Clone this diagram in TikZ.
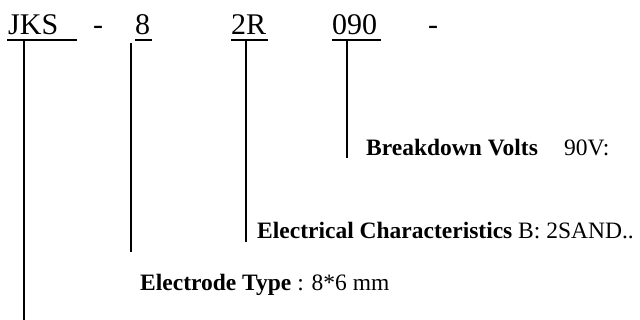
\documentclass[tikz,border=0pt]{standalone}
\usepackage{fontspec}
\setmainfont{Liberation Serif}
\begin{document}
\begin{tikzpicture}[x=1pt,y=-1pt,
  code/.style={anchor=base west,inner sep=0pt,font=\fontsize{30}{30}\selectfont},
  lab/.style={anchor=base west,inner sep=0pt,font=\fontsize{23.5}{23.5}\selectfont},
  lead/.style={line width=1.3pt},
  uline/.style={line width=1.2pt}]
\useasboundingbox (0,0) rectangle (640,320);
% top code
\node[code] (jks) at (8,35) {JKS};
\node[code] (d1) at (93,35) {-};
\node[code] (e8) at (135,35) {8};
\node[code] (r2) at (231,35) {2R};
\node[code] (v090) at (332,35) {090};
\node[code] (d2) at (428,35) {-};
% underlines
\coordinate (u1a) at (7,40);   \coordinate (u1b) at (77,40);
\coordinate (u2a) at (135,40); \coordinate (u2b) at (152,40);
\coordinate (u3a) at (231,40); \coordinate (u3b) at (268,40);
\coordinate (u4a) at (332,40); \coordinate (u4b) at (381,40);
\draw[uline] (u1a) -- (u1b);
\draw[uline] (u2a) -- (u2b);
\draw[uline] (u3a) -- (u3b);
\draw[uline] (u4a) -- (u4b);
% labels
\node[lab] (bv) at (366,156) {\textbf{Breakdown Volts}};
\node[lab] (bvv) at (564,156) {90V:};
\node[lab] (ec) at (257,239) {\textbf{Electrical Characteristics} B: 2SAND..};
\node[lab] (et) at (140,291) {\textbf{Electrode Type} : 8*6 mm};
% leaders
\coordinate (t1) at (24,41);  \coordinate (b1) at (24,320);
\coordinate (t2) at (131,43); \coordinate (b2) at (131,252);
\coordinate (t3) at (246,41); \coordinate (b3) at (246,242);
\coordinate (t4) at (347,41); \coordinate (b4) at (347,158);
\draw[lead] (t1) -- (b1);
\draw[lead] (t2) -- (b2);
\draw[lead] (t3) -- (b3);
\draw[lead] (t4) -- (b4);
\end{tikzpicture}
\end{document}
